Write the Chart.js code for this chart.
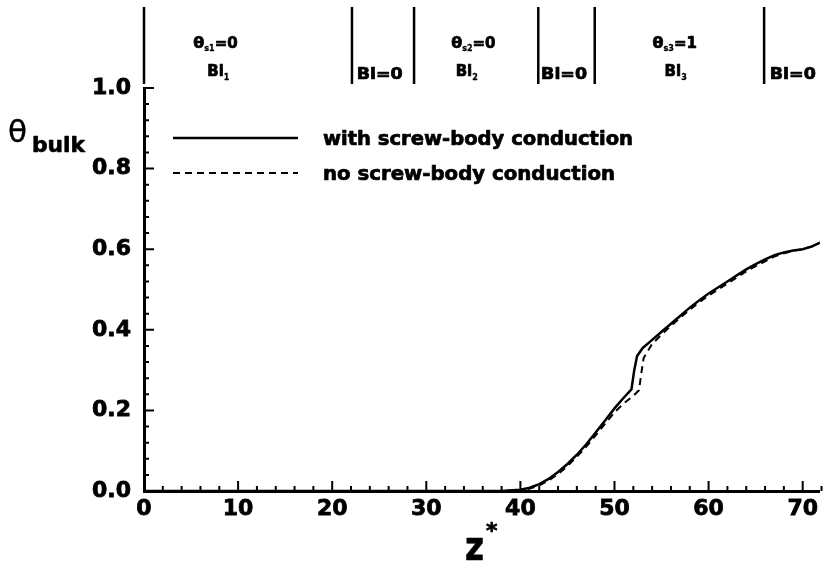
<!DOCTYPE html>
<html><head><meta charset="utf-8">
<script src="https://cdn.jsdelivr.net/npm/chart.js@4.4.0/dist/chart.umd.min.js"></script>
<style>html,body{margin:0;padding:0;background:#fff;}#wrap{width:823px;height:564px;}</style>
</head><body><div id="wrap"><canvas id="c" width="823" height="564"></canvas></div>
<script>
// ---- data ----
const zWith     = [0, 38, 40, 41, 42, 43, 44, 45, 46, 47, 48, 49, 50, 51, 51.8, 52.1, 52.4, 53, 54, 55, 56, 57, 58, 59, 60, 61, 62, 63, 64, 65, 66, 67, 68, 69, 70, 71, 72];
const thetaWith = [0, 0, 0.003, 0.008, 0.017, 0.03, 0.047, 0.067, 0.09, 0.116, 0.145, 0.175, 0.205, 0.232, 0.252, 0.3, 0.335, 0.355, 0.375, 0.395, 0.415, 0.435, 0.455, 0.473, 0.49, 0.505, 0.52, 0.535, 0.55, 0.563, 0.575, 0.585, 0.592, 0.597, 0.6, 0.607, 0.618];
const zNo       = [0, 38, 40, 41, 42, 43, 44, 45, 46, 47, 48, 49, 50, 51, 52, 52.6, 52.9, 53.1, 54, 55, 56, 57, 58, 59, 60, 61, 62, 63, 64, 65, 66, 67, 68, 69, 70, 71, 72];
const thetaNo   = [0, 0, 0.002, 0.006, 0.014, 0.026, 0.042, 0.062, 0.085, 0.11, 0.138, 0.167, 0.195, 0.218, 0.236, 0.25, 0.3, 0.33, 0.365, 0.388, 0.41, 0.43, 0.45, 0.468, 0.485, 0.5, 0.515, 0.53, 0.545, 0.558, 0.57, 0.582, 0.59, 0.596, 0.6, 0.607, 0.618];
const seriesNames = ['with screw-body conduction', 'no screw-body conduction'];

const xTickValues = [0, 10, 20, 30, 40, 50, 60, 70];
const xTickLabels = ['0', '10', '20', '30', '40', '50', '60', '70'];
const yTickValues = [0, 0.2, 0.4, 0.6, 0.8, 1.0];
const yTickLabels = ['0.0', '0.2', '0.4', '0.6', '0.8', '1.0'];

// zone annotations along the top
const zoneDividers = [0, 22.1, 28.7, 41.9, 47.9, 65.9];
const thetaLabelZ   = [7.6, 35.0, 56.4];
const thetaLabelSub = ['s1', 's2', 's3'];
const thetaLabelVal = ['0', '0', '1'];
const biLabelZ      = [7.9, 34.3, 56.5];
const biLabelSub    = ['1', '2', '3'];
const bi0LabelZ     = [22.6, 42.2, 66.5];
const bi0Label      = 'Bi=0';

const BOLD = '"DejaVu Sans"';

function fitText(ctx, text, x, y, font, w, align, stroke) {
  ctx.save();
  ctx.font = font;
  ctx.textBaseline = 'alphabetic';
  ctx.textAlign = 'left';
  const m = ctx.measureText(text).width;
  const sx = w ? w / m : 1;
  const ww = m * sx;
  const x0 = align === 'center' ? x - ww / 2 : align === 'right' ? x - ww : x;
  ctx.translate(x0, y);
  ctx.scale(sx, 1);
  ctx.fillText(text, 0, 0);
  const sw = stroke === undefined ? 0.7 : stroke;
  if (sw > 0) { ctx.lineWidth = sw; ctx.lineJoin = 'round'; ctx.strokeText(text, 0, 0); }
  ctx.restore();
  return ww;
}
function textW(ctx, text, font) { ctx.save(); ctx.font = font; const w = ctx.measureText(text).width; ctx.restore(); return w; }

const decor = {
  id: 'decor',
  afterDraw(chart) {
    const ctx = chart.ctx;
    const xs = chart.scales.x, ys = chart.scales.y;
    const ca = chart.chartArea;
    ctx.save();
    ctx.fillStyle = '#000';
    ctx.strokeStyle = '#000';
    // inward tick marks
    ctx.lineWidth = 2;
    ctx.beginPath();
    for (let v = 0; v <= 72.001; v += 2) {
      const px = xs.getPixelForValue(v);
      const major = xTickValues.some(t => Math.abs(t - v) < 1e-6);
      ctx.moveTo(px, ca.bottom); ctx.lineTo(px, ca.bottom - (major ? 10 : 5));
    }
    for (let v = 0; v <= 1.0001; v += 0.04) {
      const py = ys.getPixelForValue(v);
      const major = yTickValues.some(t => Math.abs(t - v) < 1e-6);
      ctx.moveTo(ca.left, py); ctx.lineTo(ca.left + (major ? 10 : 5), py);
    }
    ctx.stroke();

    // zone dividers at top
    ctx.lineWidth = 2.5;
    ctx.beginPath();
    zoneDividers.forEach(z => {
      const px = xs.getPixelForValue(z);
      ctx.moveTo(px, 7); ctx.lineTo(px, 84);
    });
    ctx.stroke();

    // zone labels
    const fBig = 'bold 16px ' + BOLD, fSub = 'bold 8px ' + BOLD, fMid = 'bold 15px ' + BOLD;
    thetaLabelZ.forEach((z, i) => {
      const cx = xs.getPixelForValue(z);
      const t1 = 'θ', t2 = thetaLabelSub[i], t3 = '=' + thetaLabelVal[i];
      const w1 = textW(ctx, t1, fBig), w2 = textW(ctx, t2, fSub), w3 = textW(ctx, t3, fMid);
      let x = cx - (w1 + w2 + w3) / 2;
      fitText(ctx, t1, x, 48, fBig); x += w1;
      fitText(ctx, t2, x, 51, fSub, 0, 'left', 0.3); x += w2;
      fitText(ctx, t3, x, 48, fMid);
    });
    biLabelZ.forEach((z, i) => {
      const cx = xs.getPixelForValue(z);
      const w1 = textW(ctx, 'Bi', fMid), w2 = textW(ctx, biLabelSub[i], fSub);
      let x = cx - (w1 + w2) / 2;
      fitText(ctx, 'Bi', x, 76, fMid); x += w1;
      fitText(ctx, biLabelSub[i], x, 80, fSub, 0, 'left', 0.3);
    });
    bi0LabelZ.forEach(z => {
      fitText(ctx, bi0Label, xs.getPixelForValue(z), 79, fMid, 46);
    });

    // legend
    const lx0 = 173, lx1 = 298, ly = [138, 173];
    ctx.lineWidth = 2.5;
    ctx.beginPath(); ctx.moveTo(lx0, ly[0]); ctx.lineTo(lx1, ly[0]); ctx.stroke();
    ctx.lineWidth = 2;
    ctx.setLineDash([7, 5]);
    ctx.beginPath(); ctx.moveTo(lx0, ly[1]); ctx.lineTo(lx1, ly[1]); ctx.stroke();
    ctx.setLineDash([]);
    fitText(ctx, seriesNames[0], 323, ly[0] + 7, 'bold 19px ' + BOLD, 310);
    fitText(ctx, seriesNames[1], 323, ly[1] + 7, 'bold 19px ' + BOLD, 292);

    // y title: theta_bulk
    fitText(ctx, 'θ', 8, 142, '31px ' + BOLD, 19, 'left', 0.4);
    fitText(ctx, 'bulk', 32, 152, 'bold 22px ' + BOLD, 53);
    // x title: z*
    fitText(ctx, 'z', 465, 560, 'bold 41px ' + BOLD, 19);
    fitText(ctx, '*', 486, 538, 'bold 22px ' + BOLD);
    ctx.restore();
  }
};

const toPts = (xs, ys) => xs.map((x, i) => ({ x, y: ys[i] }));

new Chart(document.getElementById('c'), {
  type: 'line',
  data: {
    datasets: [
      { label: seriesNames[0], data: toPts(zWith, thetaWith), borderColor: '#000', borderWidth: 2.5, pointRadius: 0, tension: 0, fill: false },
      { label: seriesNames[1], data: toPts(zNo, thetaNo), borderColor: '#000', borderWidth: 2, borderDash: [7, 5], pointRadius: 0, tension: 0, fill: false }
    ]
  },
  options: {
    responsive: false,
    animation: false,
    layout: { padding: { left: 0, right: 0, top: 88, bottom: 0 } },
    plugins: { legend: { display: false }, tooltip: { enabled: false } },
    scales: {
      x: {
        type: 'linear', min: 0, max: 71.8,
        afterFit(s) { s.height = 73; },
        afterBuildTicks(s) { s.ticks = xTickValues.map(v => ({ value: v })); },
        grid: { display: true, drawOnChartArea: false, drawTicks: false },
        border: { display: true, width: 3, color: '#000' },
        ticks: { padding: 5, color: '#000', maxRotation: 0, autoSkip: false,
          textStrokeColor: '#000', textStrokeWidth: 0.8,
          font: { family: 'DejaVu Sans', weight: 'bold', size: 22 },
          callback: (v, i) => xTickLabels[i] }
      },
      y: {
        type: 'linear', min: 0, max: 1.0,
        afterFit(s) { s.width = 144; },
        afterBuildTicks(s) { s.ticks = yTickValues.map(v => ({ value: v })); },
        grid: { display: true, drawOnChartArea: false, drawTicks: false },
        border: { display: true, width: 3, color: '#000' },
        ticks: { padding: 13, color: '#000', autoSkip: false,
          textStrokeColor: '#000', textStrokeWidth: 0.8,
          font: { family: 'DejaVu Sans', weight: 'bold', size: 22 },
          callback: (v, i) => yTickLabels[i] }
      }
    }
  },
  plugins: [decor]
});
</script>
</body></html>
